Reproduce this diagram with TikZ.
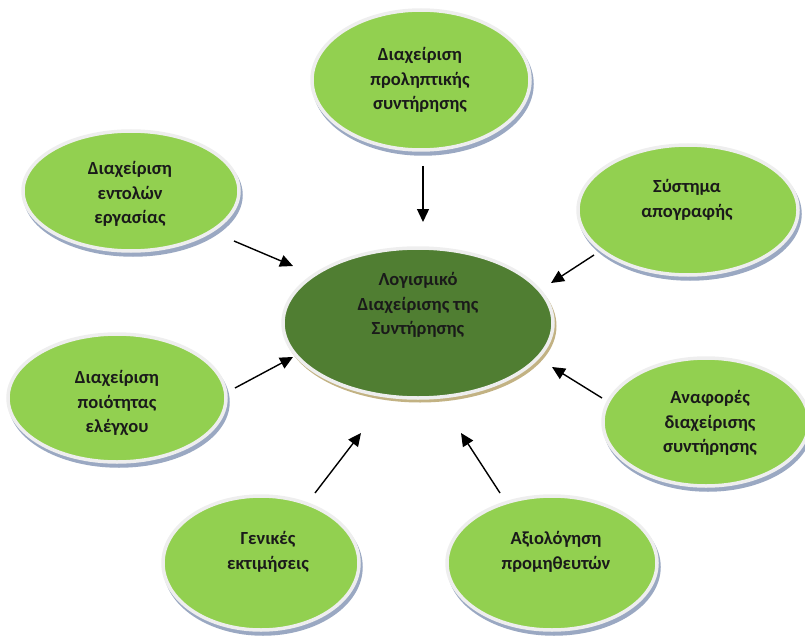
\documentclass[tikz,border=0pt]{standalone}
\usepackage{fontspec}
\setmainfont{Carlito}
\usetikzlibrary{shapes.geometric,arrows.meta}
\definecolor{lgreen}{HTML}{92D050}
\definecolor{dgreen}{HTML}{507E32}
\definecolor{rim}{HTML}{EEEEEE}
\definecolor{shblue}{HTML}{9AA8C2}
\definecolor{shtan}{HTML}{C2B283}
\definecolor{ink}{HTML}{1A1A1A}
\tikzset{
  bubble/.style 2 args={ellipse, inner sep=0pt, fill=lgreen, draw=rim, line width=3.5pt,
    minimum width=#1, minimum height=#2,
    preaction={fill=shblue, draw=shblue, line width=3.5pt,
      transform canvas={xshift=2pt, yshift=-4pt}}},
  hub/.style 2 args={ellipse, inner sep=0pt, fill=dgreen, draw=rim, line width=3.5pt,
    minimum width=#1, minimum height=#2,
    preaction={fill=shtan, draw=shtan, line width=3pt,
      transform canvas={xshift=2pt, yshift=-3pt}}},
  caption/.style={align=center, text=ink, font=\fontsize{18.5}{24.5}\selectfont\bfseries},
  link/.style={line width=1.4pt, -{Triangle[length=13pt, width=12pt]}}
}
\begin{document}
\begin{tikzpicture}[x=1pt, y=-1pt]
\useasboundingbox (0,0) rectangle (805,639);

% central hub
\node[hub={270pt}{150pt}] (hub) at (418,323) {};
\node[caption] (hubt) at (418,305) {Λογισμικό\\Διαχείρισης της\\Συντήρησης};

% surrounding modules
\node[bubble={218pt}{140pt}] (top) at (421,80) {};
\node[caption] (topt) at (420,80) {Διαχείριση\\προληπτικής\\συντήρησης};

\node[bubble={216pt}{120pt}] (tl) at (131,191) {};
\node[caption] (tlt) at (130,194) {Διαχείριση\\εντολών\\εργασίας};

\node[bubble={220pt}{130pt}] (tr) at (688,210) {};
\node[caption] (trt) at (687,200) {Σύστημα\\απογραφής};

\node[bubble={218pt}{128pt}] (ml) at (117,398) {};
\node[caption] (mlt) at (117,403) {Διαχείριση\\ποιότητας\\ελέγχου};

\node[bubble={206pt}{128pt}] (mr) at (706,422) {};
\node[caption] (mrt) at (710,423) {Αναφορές\\διαχείρισης\\συντήρησης};

\node[bubble={196pt}{134pt}] (bl) at (261,563) {};
\node[caption] (blt) at (268,552) {Γενικές\\εκτιμήσεις};

\node[bubble={210pt}{134pt}] (br) at (552,563) {};
\node[caption] (brt) at (556,552) {Αξιολόγηση\\προμηθευτών};

% arrow end points
\coordinate (s1) at (423,166); \coordinate (e1) at (423,222);
\coordinate (s2) at (234,241); \coordinate (e2) at (293,266);
\coordinate (s3) at (235,388); \coordinate (e3) at (293,357);
\coordinate (s4) at (594,255); \coordinate (e4) at (551,283);
\coordinate (s5) at (602,398); \coordinate (e5) at (552,367);
\coordinate (s6) at (315,493); \coordinate (e6) at (361,433);
\coordinate (s7) at (500,493); \coordinate (e7) at (461,433);

\foreach \i in {1,...,7} \draw[link] (s\i) -- (e\i);
\end{tikzpicture}
\end{document}
